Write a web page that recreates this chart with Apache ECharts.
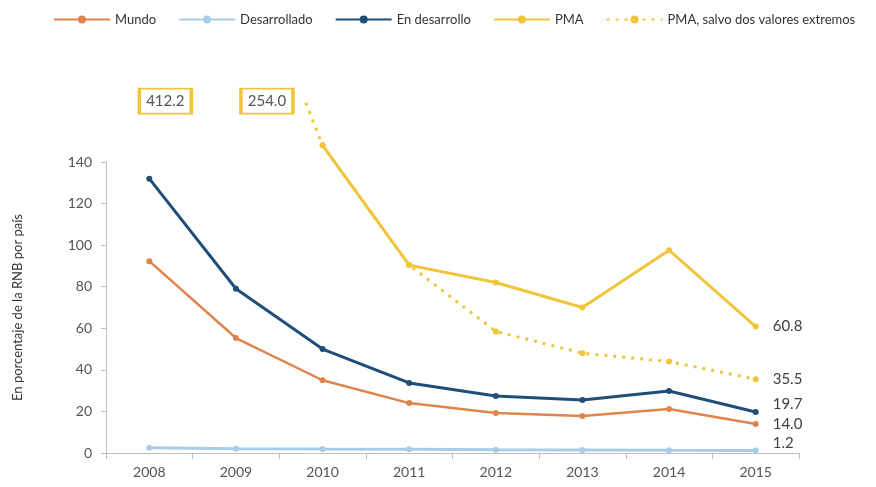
<!DOCTYPE html>
<html>
<head>
<meta charset="utf-8">
<style>html,body{margin:0;padding:0;background:#fff}#c{width:876px;height:487px}</style>
<script src="https://cdn.jsdelivr.net/npm/echarts@6/dist/echarts.min.js"></script>
</head>
<body>
<div id="c"></div>
<script>
var years = ['2008','2009','2010','2011','2012','2013','2014','2015'];
var mundo = [92.3, 55.3, 35.0, 24.0, 19.3, 17.8, 21.2, 14.0];
var desarrollado = [2.5, 2.1, 1.9, 1.8, 1.6, 1.5, 1.3, 1.2];
var enDesarrollo = [132.0, 79.0, 50.0, 33.7, 27.4, 25.5, 29.8, 19.7];
var pma = [412.2, 254.0, 148.0, 90.4, 82.0, 70.0, 97.6, 60.8];
var pmaSalvo = [412.2, 254.0, 148.0, 90.4, 58.5, 48.0, 44.0, 35.5];
var yTicks = [0, 20, 40, 60, 80, 100, 120, 140];

var C_MUNDO = '#e0844c', C_DES = '#a8cde6', C_END = '#1f4e79', C_PMA = '#f0c53c';
var FONT = 'Lato';

var gridLeft = 106, gridRight = 77, gridBottom = 34, gridTop = 162;
var yMax = 140, yMaxTall = 170;
var plotH = 487 - gridTop - gridBottom;
var pxPerUnit = plotH / yMax;
var tallTop = 487 - gridBottom - yMaxTall * pxPerUnit;

function lastLabel(arr, offset) {
  return arr.map(function (v, i) {
    if (i !== arr.length - 1) return v;
    return {value: v, label: {show: true, position: 'right', distance: 14, offset: offset || [0, 0],
      formatter: function (p) { return p.value.toFixed(1); }, color: '#404040', fontSize: 15, fontFamily: FONT}};
  });
}
function fromIndex(arr, start) {
  return arr.map(function (v, i) { return i < start ? null : v; });
}

var lineBase = {type: 'line', symbol: 'circle', symbolSize: 6, smooth: false, z: 3};

var option = {
  animation: false,
  backgroundColor: '#fff',
  textStyle: {fontFamily: FONT},
  legend: {
    top: 8, left: 48, width: 828, itemWidth: 56, itemHeight: 10, itemGap: 22,
    textStyle: {fontSize: 13, color: '#333', fontFamily: FONT},
    data: ['Mundo', 'Desarrollado', 'En desarrollo', 'PMA', 'PMA, salvo dos valores extremos']
  },
  grid: [
    {left: gridLeft, right: gridRight, bottom: gridBottom, top: gridTop},
    {left: gridLeft, right: gridRight, bottom: gridBottom, top: tallTop}
  ],
  xAxis: [
    {type: 'category', gridIndex: 0, data: years, boundaryGap: true,
     axisLine: {lineStyle: {color: '#bfbfbf', width: 1}},
     axisTick: {show: true, alignWithLabel: false, length: 6, lineStyle: {color: '#bfbfbf'}},
     axisLabel: {color: '#555', fontSize: 14, margin: 12, fontFamily: FONT},
     splitLine: {show: false}},
    {type: 'category', gridIndex: 1, data: years, boundaryGap: true, show: false}
  ],
  yAxis: [
    {type: 'value', gridIndex: 0, min: 0, max: yMax, interval: 20,
     name: 'En porcentaje de la RNB por país', nameLocation: 'middle', nameGap: 82, nameRotate: 90,
     nameTextStyle: {fontSize: 13, color: '#333', fontFamily: FONT},
     axisLine: {show: true, lineStyle: {color: '#bfbfbf', width: 1}},
     axisTick: {show: true, length: 5, lineStyle: {color: '#bfbfbf'}},
     axisLabel: {color: '#555', fontSize: 14, margin: 14, fontFamily: FONT,
       customValues: yTicks},
     splitLine: {show: false}},
    {type: 'value', gridIndex: 1, min: 0, max: yMaxTall, show: false, splitLine: {show: false}}
  ],
  series: [
    Object.assign({}, lineBase, {name: 'Mundo', xAxisIndex: 0, yAxisIndex: 0,
      data: lastLabel(mundo), itemStyle: {color: C_MUNDO}, lineStyle: {color: C_MUNDO, width: 2.5}}),
    Object.assign({}, lineBase, {name: 'Desarrollado', xAxisIndex: 0, yAxisIndex: 0,
      data: lastLabel(desarrollado, [0, -7]), itemStyle: {color: C_DES}, lineStyle: {color: C_DES, width: 3}}),
    Object.assign({}, lineBase, {name: 'En desarrollo', xAxisIndex: 0, yAxisIndex: 0,
      data: lastLabel(enDesarrollo, [0, -8]), itemStyle: {color: C_END}, lineStyle: {color: C_END, width: 3}}),
    Object.assign({}, lineBase, {name: 'PMA', xAxisIndex: 1, yAxisIndex: 1, clip: true, z: 4,
      data: lastLabel(fromIndex(pma, 2)), itemStyle: {color: C_PMA}, lineStyle: {color: C_PMA, width: 3}}),
    Object.assign({}, lineBase, {name: 'PMA, salvo dos valores extremos', xAxisIndex: 1, yAxisIndex: 1, clip: true,
      data: lastLabel(pmaSalvo), showSymbol: true, itemStyle: {color: C_PMA},
      lineStyle: {color: C_PMA, width: 3, type: [3, 6]},
      markPoint: {
        symbol: 'rect', symbolSize: [52, 25], silent: true, z: 10,
        itemStyle: {color: '#fff', borderColor: C_PMA, borderWidth: 2.5},
        label: {show: true, position: 'inside', color: '#555', fontSize: 15, fontFamily: FONT,
          formatter: function (p) { return p.data.v.toFixed(1); }},
        data: [
          {coord: [years[0], 169.3], v: pmaSalvo[0], symbolOffset: [16, 0]},
          {coord: [years[1], 169.3], v: pmaSalvo[1], symbolOffset: [31, 0]}
        ]
      }})
  ]
};
var chart = echarts.init(document.getElementById('c'), null, {renderer: 'canvas'});
chart.setOption(option);
</script>
</body>
</html>
